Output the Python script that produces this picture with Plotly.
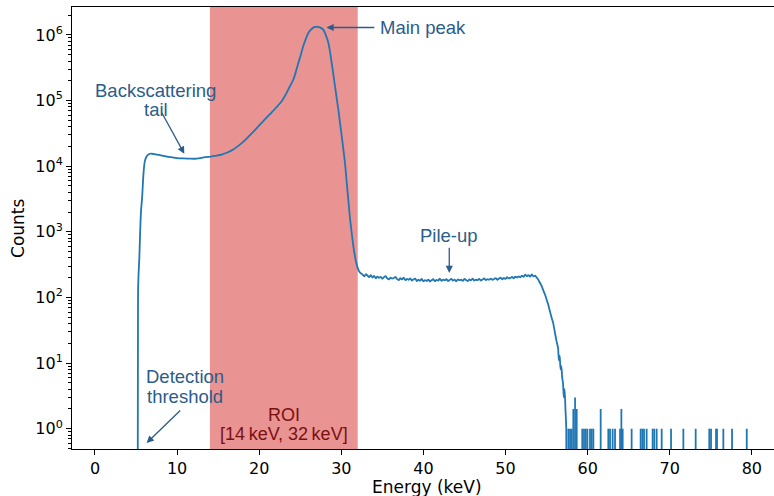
import plotly.graph_objects as go

# ---------------- data ----------------
# smooth part of the spectrum: threshold, backscattering tail, main peak, falling edge
edge_energy = [5.20, 5.24, 5.30, 5.40, 5.50, 5.60, 5.75, 5.90, 6.05, 6.25, 6.50, 6.80,
               7.20, 7.80, 8.50, 9.20, 10.0, 10.8, 11.6, 12.4, 13.4, 14.0, 14.7, 15.43,
               16.05, 16.65, 17.25, 17.87, 18.5, 19.08, 19.7, 20.3, 20.9, 21.52, 22.1,
               22.74, 23.15, 23.55, 24.16, 24.45, 24.77, 25.07, 25.37, 25.68, 25.98,
               26.3, 26.59, 26.85, 27.12, 27.45, 27.8, 28.1, 28.42, 28.62, 28.83, 29.03,
               29.23, 29.43, 29.64, 29.85, 30.05, 30.25, 30.45, 30.65, 30.85, 31.05,
               31.27, 31.47, 31.67, 31.87, 32.07, 32.27, 32.48]
edge_counts = [0.05, 100, 220, 400, 1000, 2000, 3500, 7500, 11500, 13800, 15000, 15500,
               15300, 14800, 14200, 13700, 13300, 13100, 13000, 13000, 13700, 13900, 14400, 15000,
               16000, 17400, 19500, 22400, 26500, 31500, 38000, 45700, 55000, 66000, 79000,
               97700, 118000, 148000, 209000, 270000, 372000, 500000, 676000, 870000, 1070000,
               1200000, 1290000, 1320000, 1330000, 1290000, 1200000, 1000000, 760000, 560000, 372000, 250000,
               166000, 110000, 72400, 45000, 28800, 18000, 11200, 5800, 3100, 1650,
               950, 600, 420, 320, 265, 240, 229]

# pile-up plateau, 0.2 keV bins starting at 32.6 keV
pileup_start = 32.6
pileup_step = 0.2
pileup_counts = [222, 210, 226, 214, 205, 218, 201, 212, 196, 208,
                 199, 206, 192, 204, 211, 195, 188, 201, 193, 198,
                 205, 190, 184, 196, 188, 200, 183, 192, 186, 195,
                 181, 189, 194, 178, 186, 180, 191, 176, 184, 179,
                 187, 175, 183, 190, 177, 185, 181, 193, 179, 186,
                 182, 190, 178, 185, 192, 180, 187, 176, 189, 183,
                 186, 179, 191, 184, 177, 188, 182, 193, 180, 187,
                 184, 192, 181, 188, 195, 183, 190, 186, 194, 185,
                 191, 197, 186, 194, 200, 189, 198, 192, 203, 195,
                 199, 205, 196, 208, 201, 210, 203, 214, 206, 222,
                 212, 218, 207, 225, 209, 215, 201]

# high-energy fall-off
fall_energy = [54.0, 54.2, 54.4, 54.6, 54.8, 55.0, 55.2, 55.4, 55.6, 55.8, 56.0, 56.2,
               56.4, 56.5, 56.6, 56.7, 56.8, 56.9, 57.0, 57.1, 57.2, 57.3, 57.4, 57.45]
fall_counts = [185, 166, 150, 128, 112, 93, 78, 62, 50, 41, 30, 22,
               17, 11, 13, 8, 9, 6, 5, 3, 4, 2, 1, 0.01]

# isolated single-bin events above the spectrum end
spike_energy = [57.65, 57.86, 58.06, 58.26, 58.47, 58.67, 59.35, 59.56, 59.77, 59.97,
                60.29, 60.50, 60.70, 61.59, 62.52, 62.73, 63.05, 63.34, 63.95, 64.11,
                64.27, 65.36, 66.46, 66.66, 66.87, 67.19, 67.92, 68.12, 68.41, 69.02,
                70.16, 71.66, 73.16, 74.82, 75.03, 75.64, 75.76, 76.53, 77.59, 79.38]
spike_counts = [1, 1, 1, 2, 3, 2, 1, 1, 1, 1,
                1, 1, 1, 2, 1, 1, 1, 1, 1, 2,
                1, 1, 1, 1, 1, 1, 1, 1, 1, 1,
                1, 1, 1, 1, 1, 1, 1, 1, 1, 1]

roi_bounds = [14, 32]
x_ticks = [0, 10, 20, 30, 40, 50, 60, 70, 80]
y_decades = [0, 1, 2, 3, 4, 5, 6]

# ---------------- build traces ----------------
pileup_energy = [round(pileup_start + i * pileup_step, 3) for i in range(len(pileup_counts))]
energy = edge_energy + pileup_energy + fall_energy
counts = edge_counts + pileup_counts + fall_counts

line_color = "#1f77b4"
ann_color = "#2b5d8a"

fig = go.Figure()
fig.add_trace(go.Scatter(x=energy, y=counts, mode="lines", line_shape="spline",
                         line=dict(color=line_color, width=1.8, smoothing=0.6), showlegend=False))

sx, sy = [], []
for e, c in zip(spike_energy, spike_counts):
    sx += [e, e, None]
    sy += [0.05, c, None]
fig.add_trace(go.Scatter(x=sx, y=sy, mode="lines",
                         line=dict(color=line_color, width=1.8), showlegend=False))

# ROI band
fig.add_shape(type="rect", xref="x", yref="paper", x0=roi_bounds[0], x1=roi_bounds[1],
              y0=0, y1=1, fillcolor="rgba(214,39,40,0.5)", line=dict(width=0), layer="below")

ann_font = dict(family="Liberation Sans, Arial, sans-serif", size=18.5, color=ann_color)
roi_font = dict(family="Liberation Sans, Arial, sans-serif", size=18, color="#7a1010")


def text(x, y, s, font, xanchor="center"):
    fig.add_annotation(x=x, y=y, xref="x", yref="y", text=s, showarrow=False,
                       font=font, xanchor=xanchor, yanchor="middle")


def arrow(x0, y0, x1, y1):
    fig.add_annotation(x=x1, y=y1, ax=x0, ay=y0, xref="x", yref="y", axref="x", ayref="y",
                       text="", showarrow=True, arrowhead=2, arrowsize=1.1, arrowwidth=1.3,
                       arrowcolor=ann_color, standoff=0)


text(7.43, 5.16, "Backscattering", ann_font)
text(7.43, 4.86, "tail", ann_font)
arrow(8.04, 4.837, 10.88, 4.19)

text(34.47, 6.12, "Main peak", ann_font, xanchor="left")
arrow(34.2, 6.113, 28.2, 6.113)

text(43.15, 2.95, "Pile-up", ann_font)
arrow(43.15, 2.779, 43.15, 2.373)

text(10.95, 0.80, "Detection", ann_font)
text(10.95, 0.49, "threshold", ann_font)
arrow(10.56, 0.30, 6.29, -0.218)

text(23, 0.213, "ROI", roi_font)
text(23, -0.076, "[14\u2009keV, 32\u2009keV]", roi_font)

# axis titles
title_font = dict(family="DejaVu Sans, sans-serif", size=17, color="black")
fig.add_annotation(xref="paper", yref="paper", x=0.505, y=-0.085, text="Energy (keV)",
                   showarrow=False, font=title_font, xanchor="center", yanchor="middle")
fig.add_annotation(xref="paper", yref="paper", x=-0.077, y=0.5, text="Counts", textangle=-90,
                   showarrow=False, font=title_font, xanchor="center", yanchor="middle")

tick_font = dict(family="DejaVu Sans, sans-serif", size=16, color="black")
minor_vals = [m * 10 ** k for k in range(-1, 7) for m in range(2, 10)]

fig.update_layout(
    width=774, height=496,
    margin=dict(l=72, r=0, t=7, b=47),
    paper_bgcolor="white", plot_bgcolor="white",
    xaxis=dict(range=[-2.80, 82.70], tickvals=x_ticks, ticks="outside", ticklen=5,
               tickcolor="black", showline=True, linecolor="black", linewidth=1,
               mirror=True, showgrid=False, zeroline=False, tickfont=tick_font),
    yaxis=dict(type="log", range=[-0.309, 6.425],
               tickvals=[10 ** d for d in y_decades],
               ticktext=[f"10<sup>{d}</sup>" for d in y_decades],
               ticks="outside", ticklen=5, tickcolor="black",
               showline=True, linecolor="black", linewidth=1, mirror=False,
               showgrid=False, zeroline=False, tickfont=tick_font,
               minor=dict(tickvals=minor_vals, ticks="outside", ticklen=3,
                          tickcolor="black", showgrid=False)),
)

fig.write_html("out.html", config={"displayModeBar": False},
               post_script="document.body.style.margin='0';document.body.style.overflow='hidden';")
